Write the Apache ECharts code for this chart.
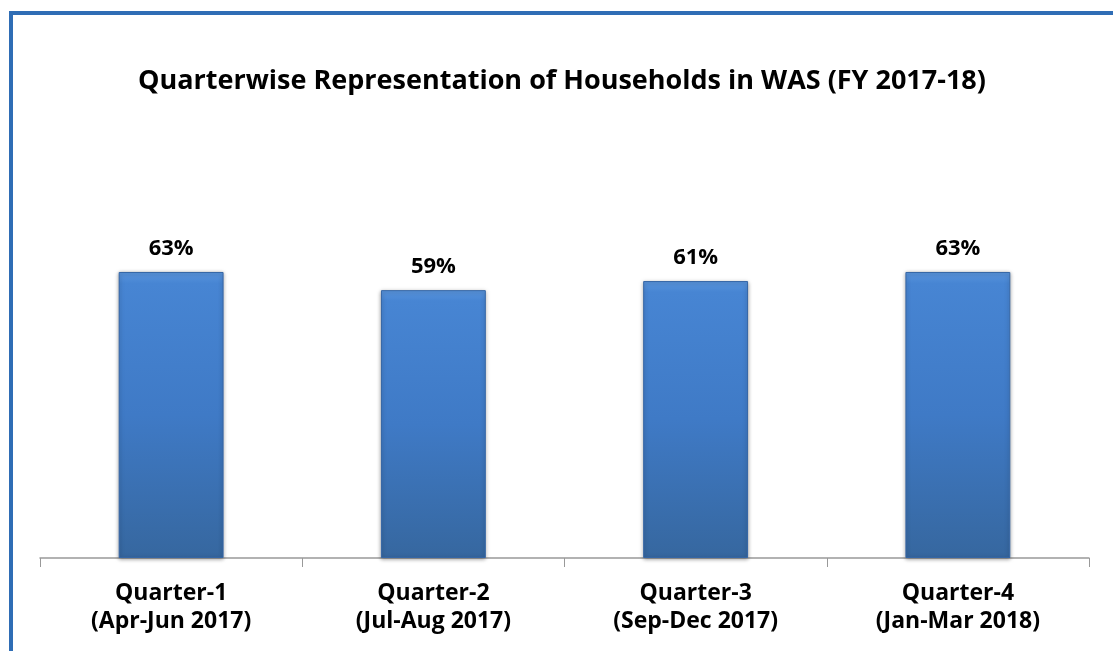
<!DOCTYPE html>
<html>
<head>
<meta charset="utf-8">
<script src="https://cdn.jsdelivr.net/npm/echarts@6/dist/echarts.min.js"></script>
<style>
html,body{margin:0;padding:0;background:#fff;}
#c{width:1113px;height:651px;}
</style>
</head>
<body>
<div id="c"></div>
<script>
var titleText = 'Quarterwise Representation of Households in WAS (FY 2017-18)';
var categories = ['Quarter-1\n(Apr-Jun 2017)', 'Quarter-2\n(Jul-Aug 2017)', 'Quarter-3\n(Sep-Dec 2017)', 'Quarter-4\n(Jan-Mar 2018)'];
var values = [63, 59, 61, 63];

var chart = echarts.init(document.getElementById('c'));
var font = '"Open Sans", sans-serif';
chart.setOption({
  animation: false,
  title: {
    text: titleText,
    left: 133,
    top: 63,
    textStyle: {fontFamily: font, fontWeight: 'bold', fontSize: 27, color: '#000'}
  },
  graphic: [
    {type: 'rect', shape: {x: 9, y: 11, width: 1104, height: 4}, style: {fill: '#2f6db5'}},
    {type: 'rect', shape: {x: 9, y: 11, width: 4, height: 640}, style: {fill: '#2f6db5'}}
  ],
  grid: {left: 40, right: 24, top: 104, bottom: 93},
  xAxis: {
    type: 'category',
    data: categories,
    axisLine: {lineStyle: {color: '#999', width: 1.5}},
    axisTick: {show: true, length: 9, lineStyle: {color: '#999'}},
    axisLabel: {fontFamily: font, fontWeight: 'bold', fontSize: 23, color: '#000', lineHeight: 28, margin: 21}
  },
  yAxis: {
    type: 'value', min: 0, max: 100, show: false, splitLine: {show: false}
  },
  series: [{
    type: 'bar',
    data: values,
    barWidth: '40%',
    itemStyle: {
      color: {
        type: 'linear', x: 0, y: 0, x2: 0, y2: 1,
        colorStops: [
          {offset: 0, color: '#5a95dd'},
          {offset: 0.04, color: '#4785d3'},
          {offset: 0.5, color: '#3f7ac6'},
          {offset: 1, color: '#36679f'}
        ]
      },
      borderColor: '#3566a6',
      borderWidth: 1,
      shadowColor: 'rgba(0,0,0,0.35)',
      shadowBlur: 4,
      shadowOffsetY: 1
    },
    label: {
      show: true, position: 'top', distance: 12,
      formatter: '{c}%',
      fontFamily: font, fontWeight: 'bold', fontSize: 22, color: '#000'
    }
  }]
});
</script>
</body>
</html>
